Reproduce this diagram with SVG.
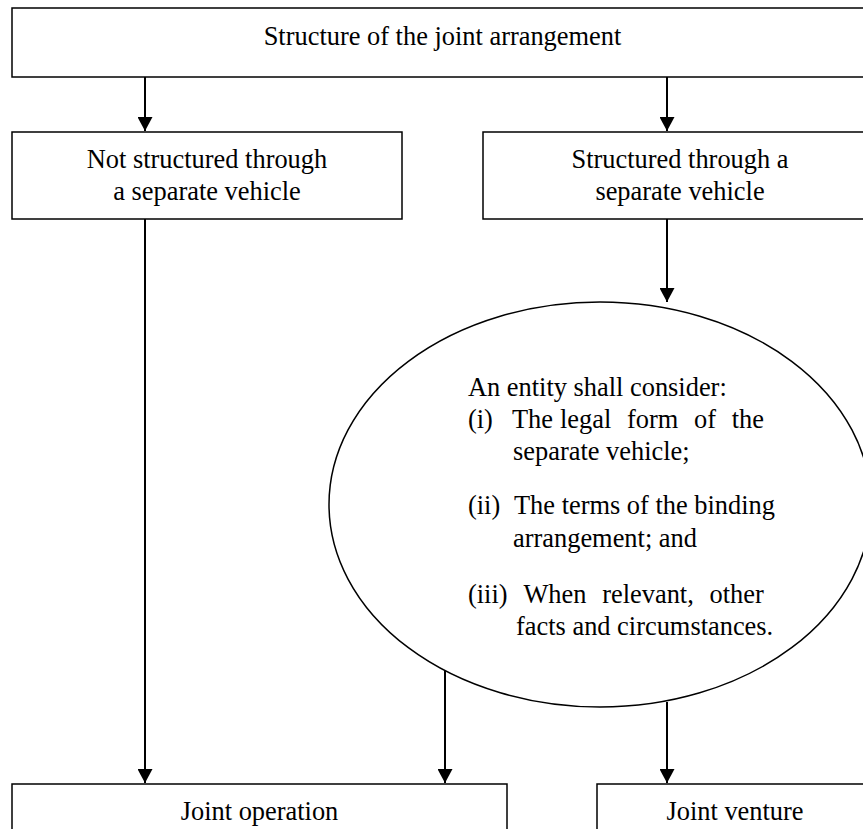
<svg xmlns="http://www.w3.org/2000/svg" width="863" height="829" viewBox="0 0 863 829">
<style>
.box{fill:#fff;stroke:#000;stroke-width:1.5}
.t{font-family:"Liberation Serif","Times New Roman",serif;font-size:26.4px;fill:#000}
.c{text-anchor:middle}
.e{text-anchor:end}
.conn{stroke:#000;stroke-width:2;fill:none;marker-end:url(#ah)}
</style>
<defs>
<marker id="ah" markerUnits="userSpaceOnUse" viewBox="0 0 14 15" refX="14" refY="7.5" markerWidth="14" markerHeight="15" orient="auto">
<path d="M0,0 L14,7.5 L0,15 z" fill="#000"/>
</marker>
</defs>
<rect width="863" height="829" fill="#fff"/>
<g id="connectors">
<line class="conn" x1="145" y1="77" x2="145" y2="131"/>
<line class="conn" x1="667" y1="77" x2="667" y2="131"/>
<line class="conn" x1="145" y1="219" x2="145" y2="783"/>
<line class="conn" x1="667" y1="219" x2="667" y2="302"/>
<line class="conn" x1="445" y1="670" x2="445" y2="783"/>
<line class="conn" x1="667" y1="702" x2="667" y2="783"/>
</g>
<g id="top">
<rect class="box" x="12" y="8" width="862" height="69"/>
<text class="t c" x="442.5" y="45">Structure of the joint arrangement</text>
</g>
<g id="not-separate">
<rect class="box" x="12" y="132" width="390" height="87"/>
<text class="t c" x="207" y="168">Not structured through</text>
<text class="t c" x="207" y="200">a separate vehicle</text>
</g>
<g id="separate">
<rect class="box" x="483" y="132" width="394" height="87"/>
<text class="t c" x="680" y="168">Structured through a</text>
<text class="t c" x="680" y="200">separate vehicle</text>
</g>
<g id="consider">
<ellipse cx="600" cy="504.5" rx="271" ry="202.5" fill="#fff" stroke="#000" stroke-width="1.5"/>
<text class="t" x="468" y="396">An entity shall consider:</text>
<text class="t" y="428"><tspan x="468">(i)</tspan><tspan x="512">The</tspan><tspan x="560">legal</tspan><tspan x="627">form</tspan><tspan x="694">of</tspan><tspan x="731.7">the</tspan></text>
<text class="t" x="513" y="460">separate vehicle;</text>
<text class="t" y="514"><tspan x="468">(ii)</tspan><tspan x="514">The terms of the binding</tspan></text>
<text class="t" x="513" y="547">arrangement; and</text>
<text class="t" y="603"><tspan x="468">(iii)</tspan><tspan x="523.4">When</tspan><tspan x="602.2">relevant,</tspan><tspan x="709.6">other</tspan></text>
<text class="t" x="516" y="635">facts and circumstances.</text>
</g>
<g id="joint-operation">
<rect class="box" x="12" y="784" width="495" height="70"/>
<text class="t c" x="259.5" y="820">Joint operation</text>
</g>
<g id="joint-venture">
<rect class="box" x="597" y="784" width="276" height="70"/>
<text class="t c" x="735" y="820">Joint venture</text>
</g>
</svg>
